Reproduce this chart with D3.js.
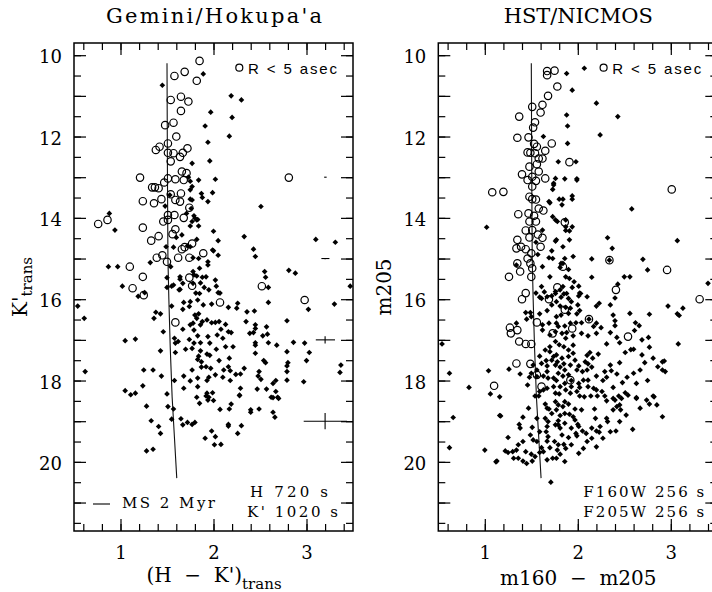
<!DOCTYPE html>
<html>
<head>
<meta charset="utf-8">
<script src="https://cdn.jsdelivr.net/npm/d3@7"></script>
<style>
  body { margin: 0; background: #fff; }
  svg { display: block; background: #fff; }
</style>
</head>
<body>
<svg id="chart" width="712" height="592"></svg>
<script>
// axes
const xDomain = [0.5, 3.5];
const yDomain = [9.7, 21.7];
const xMajor = [1, 2, 3];
const xMinor = d3.range(3, 18).map((i) => i / 5);
const yMajor = d3.range(10, 22);
const yMinor = d3.range(20, 44).map((i) => i / 2);
const yLabels = [10, 12, 14, 16, 18, 20];

// 2 Myr main sequence track (same for both panels)
const msTrack = [[1.50, 10.2], [1.505, 13], [1.51, 15], [1.52, 16], [1.535, 17.2], [1.555, 18.4], [1.58, 19.4], [1.605, 20.4]];

// Gemini/Hokupa'a : [H-K', K']
const gemOpen = [
  [1.85, 10.14], [1.69, 10.41], [1.58, 10.51], [1.82, 10.63], [1.65, 11.02], [1.54, 11.10], [1.73, 11.14], [1.65, 11.37],
  [1.57, 11.66], [1.48, 11.72], [1.60, 12.0], [1.51, 12.17], [1.42, 12.25], [1.38, 12.33], [1.51, 12.40], [1.57, 12.41],
  [1.67, 12.40], [1.72, 12.29], [1.64, 12.5], [1.54, 12.61], [1.21, 13.01], [1.47, 13.13], [1.51, 13.03], [1.59, 13.05],
  [1.68, 13.07], [1.66, 12.86], [1.71, 12.9], [1.34, 13.25], [1.37, 13.25], [1.41, 13.27], [1.24, 13.59], [1.36, 13.64],
  [1.44, 13.54], [1.54, 13.42], [1.59, 13.56], [1.64, 13.60], [1.65, 13.40], [1.74, 13.75], [1.51, 13.93], [1.46, 14.09],
  [1.51, 14.05], [1.58, 13.93], [1.68, 14.0], [0.76, 14.15], [0.86, 14.05], [1.24, 14.24], [1.59, 14.28], [1.56, 14.40],
  [1.41, 14.45], [1.33, 14.56], [1.77, 14.63], [1.69, 14.72], [1.66, 14.77], [1.39, 14.98], [1.45, 14.92], [1.62, 14.98],
  [1.74, 14.98], [1.89, 14.87], [1.50, 15.08], [1.10, 15.2], [1.24, 15.45], [1.74, 15.47], [1.77, 15.67], [2.52, 15.68],
  [1.13, 15.73], [2.81, 13.01], [1.59, 16.57], [2.07, 16.08], [2.98, 16.02], [1.25, 15.9]
];
const gemFilled = [
  [1.89, 10.46], [1.45, 10.74], [2.19, 11.0], [2.30, 11.1], [1.97, 11.4], [2.20, 11.53], [1.91, 11.74], [2.17, 11.99],
  [1.94, 12.14], [1.96, 12.6], [1.77, 12.66], [1.73, 13.0], [1.75, 13.1], [1.84, 13.07], [2.02, 13.05], [1.77, 13.23],
  [1.75, 13.31], [1.87, 13.40], [1.99, 13.38], [1.88, 13.5], [1.94, 13.6], [1.75, 13.54], [2.51, 13.72], [1.71, 13.89],
  [1.80, 14.01], [1.77, 14.09], [1.82, 14.05], [1.84, 14.2], [1.75, 14.2], [0.88, 13.89], [0.94, 14.3], [2.0, 14.33],
  [1.82, 14.53], [1.66, 14.42], [1.60, 14.48], [2.05, 14.56], [2.33, 14.46], [1.99, 14.79], [2.05, 14.92], [2.43, 14.77],
  [2.45, 14.95], [1.49, 14.71], [1.57, 14.72], [1.75, 14.71], [1.78, 14.98], [1.84, 15.0], [1.94, 15.08], [1.94, 15.16],
  [1.32, 15.1], [1.54, 15.20], [1.85, 15.24], [1.78, 15.32], [1.64, 15.45], [1.50, 15.47], [1.82, 15.43], [1.88, 15.46],
  [1.92, 15.45], [2.02, 15.53], [2.03, 15.68], [1.86, 15.6], [1.90, 15.71], [1.95, 15.77], [1.85, 15.86], [1.67, 15.61],
  [1.57, 15.65], [1.50, 15.71], [1.64, 15.76], [2.05, 15.84], [0.87, 15.2], [0.97, 15.2], [1.02, 15.68], [1.26, 15.84],
  [1.19, 15.93], [2.55, 15.32], [2.56, 15.46], [2.59, 15.71], [2.81, 15.29], [2.88, 15.36], [3.10, 14.53], [3.31, 14.6],
  [3.47, 15.68], [1.53, 13.44], [1.48, 13.71], [1.77, 13.56], [1.76, 13.77], [1.79, 13.95], [1.83, 14.04], [1.72, 14.69],
  [2.0, 14.81], [1.64, 15.51], [1.55, 15.68], [1.63, 15.77], [1.81, 15.85], [2.07, 15.85], [1.78, 15.61], [1.79, 15.4],
  [0.54, 16.17], [0.61, 16.47], [3.30, 16.12], [3.02, 16.25], [2.59, 16.08], [2.79, 16.53], [2.26, 16.1], [2.25, 16.22],
  [2.16, 16.2], [2.36, 16.31], [2.44, 16.29], [1.98, 16.12], [1.89, 16.14], [1.83, 16.02], [1.75, 16.06], [1.68, 16.08],
  [1.74, 16.18], [1.67, 16.25], [1.55, 16.17], [1.38, 16.32], [1.43, 16.36], [1.36, 16.47], [1.80, 16.39], [1.84, 16.36],
  [1.82, 16.47], [1.78, 16.59], [1.88, 16.55], [1.93, 16.51], [1.98, 16.58], [2.02, 16.57], [2.06, 16.55], [1.75, 16.63],
  [1.86, 16.63], [2.13, 16.62], [2.35, 16.55], [2.45, 16.63], [2.57, 16.68], [2.45, 16.72], [1.67, 16.74], [1.79, 16.76],
  [2.08, 16.74], [2.16, 16.8], [2.19, 16.82], [2.39, 16.84], [2.43, 16.82], [2.53, 16.9], [2.58, 16.86], [1.46, 16.8],
  [1.05, 17.02], [1.16, 16.98], [1.58, 16.96], [1.59, 17.08], [1.62, 17.04], [1.74, 16.99], [1.79, 17.08], [1.86, 17.07],
  [1.94, 16.92], [1.96, 17.08], [1.83, 16.9], [2.04, 16.88], [2.10, 16.96], [2.45, 17.07], [2.45, 17.13], [2.59, 17.07],
  [2.68, 17.13], [2.86, 17.06], [2.98, 17.08], [1.43, 17.27], [1.59, 17.31], [1.70, 17.23], [1.77, 17.21], [1.86, 17.27],
  [1.84, 17.4], [1.93, 17.35], [1.96, 17.38], [2.03, 17.23], [2.13, 17.17], [2.21, 17.17], [2.45, 17.33], [2.79, 17.29],
  [3.03, 17.31], [1.83, 17.48], [1.87, 17.54], [2.06, 17.51], [2.17, 17.45], [2.54, 17.51], [2.56, 17.56], [2.80, 17.56],
  [2.79, 17.64], [3.0, 17.51], [3.37, 17.62], [1.87, 17.67], [1.92, 17.66], [1.97, 17.7], [1.77, 17.74], [1.25, 17.74],
  [1.35, 17.74], [1.44, 17.89], [2.11, 17.74], [2.16, 17.66], [2.18, 17.76], [2.24, 17.85], [2.29, 17.84], [2.33, 17.7],
  [2.49, 17.78], [2.48, 17.89], [2.79, 17.78], [3.36, 17.8], [0.62, 17.78], [1.58, 18.0], [1.68, 17.89], [1.75, 18.01],
  [1.83, 17.94], [1.93, 18.0], [1.95, 17.92], [2.02, 17.86], [2.10, 17.92], [2.18, 18.0], [2.51, 17.97], [2.64, 18.07],
  [2.67, 18.0], [2.79, 17.99], [2.97, 18.03], [1.05, 18.25], [1.11, 18.35], [1.16, 18.31], [1.24, 18.13], [1.50, 18.33],
  [1.68, 18.19], [1.83, 18.15], [1.93, 18.31], [1.99, 18.3], [1.92, 18.38], [1.95, 18.41], [2.29, 18.19], [2.28, 18.36],
  [2.47, 18.21], [2.57, 18.21], [2.62, 18.41], [2.69, 18.41], [2.67, 18.27], [1.82, 18.41], [1.28, 18.63], [1.51, 18.64],
  [1.57, 18.7], [1.85, 18.56], [1.94, 18.48], [2.0, 18.49], [2.07, 18.71], [2.17, 18.7], [2.19, 18.58], [2.40, 18.72],
  [2.40, 18.78], [2.49, 18.7], [2.64, 18.42], [2.70, 18.44], [2.64, 18.78], [2.66, 18.9], [1.33, 18.99], [1.41, 19.13],
  [1.43, 19.3], [1.55, 18.95], [1.65, 18.94], [1.67, 19.09], [1.72, 19.03], [1.77, 19.08], [1.80, 19.03], [1.98, 19.24],
  [2.02, 19.38], [1.91, 19.42], [2.01, 19.58], [2.08, 19.57], [2.16, 19.08], [2.16, 19.12], [2.30, 19.11], [2.26, 19.3],
  [1.28, 19.73], [1.35, 19.69], [2.28, 18.37]
];
// typical errors: [colour, mag, colour err, mag err]
const gemErrors = [[3.2, 13, 0.01, 0], [3.2, 15, 0.04, 0.015], [3.2, 17, 0.1, 0.09], [3.2, 19, 0.23, 0.2]];

// HST/NICMOS : [m160-m205, m205]
const nicOpen = [
  [1.67, 10.39], [1.75, 10.38], [1.67, 10.49], [1.78, 10.77], [1.68, 11.0], [1.51, 11.27], [1.62, 11.22], [1.60, 11.41],
  [1.37, 11.51], [1.54, 11.65], [1.52, 11.78], [1.35, 12.03], [1.47, 12.02], [1.53, 12.18], [1.56, 12.25], [1.72, 12.17],
  [1.65, 12.35], [1.46, 12.39], [1.49, 12.40], [1.54, 12.41], [1.58, 12.54], [1.62, 12.54], [1.56, 12.68], [1.91, 12.63],
  [1.48, 12.74], [1.58, 12.86], [1.40, 12.93], [1.51, 12.99], [1.65, 13.03], [1.46, 13.07], [1.55, 13.09], [1.08, 13.37],
  [1.20, 13.36], [1.51, 13.23], [1.48, 13.48], [1.51, 13.54], [1.55, 13.55], [1.58, 13.77], [1.63, 13.82], [1.36, 13.91],
  [1.47, 13.89], [1.53, 13.95], [1.48, 14.09], [1.55, 14.09], [1.86, 14.11], [1.44, 14.31], [1.51, 14.3], [1.57, 14.41],
  [1.62, 14.49], [1.35, 14.54], [1.48, 14.48], [1.39, 14.71], [1.44, 14.77], [1.50, 14.87], [1.60, 14.71], [1.34, 14.75],
  [1.46, 15.0], [1.35, 15.12], [1.49, 15.12], [1.51, 15.24], [1.38, 15.32], [1.26, 15.45], [1.50, 15.45], [1.84, 15.2],
  [2.34, 15.04], [2.96, 15.28], [3.01, 13.3], [2.41, 15.77], [1.78, 15.71], [1.40, 16.0], [1.44, 15.85], [1.69, 16.0],
  [1.86, 16.26], [2.12, 16.49], [1.56, 16.57], [1.27, 16.7], [1.28, 16.84], [1.35, 16.76], [1.37, 17.04], [1.44, 17.1],
  [1.50, 17.1], [1.73, 16.84], [1.94, 16.72], [2.54, 16.92], [1.34, 17.58], [1.49, 17.59], [1.56, 17.86], [1.92, 17.99],
  [1.10, 18.13], [1.61, 18.15], [3.31, 16.0]
];
const nicFilled = [
  [1.88, 10.45], [2.07, 10.32], [1.94, 10.86], [2.20, 11.18], [2.43, 11.51], [1.88, 11.47], [1.89, 11.74], [2.24, 11.96],
  [1.63, 12.0], [1.89, 12.17], [1.79, 12.62], [1.98, 12.62], [1.86, 13.04], [1.76, 13.03], [1.99, 13.04], [1.74, 13.15],
  [1.73, 13.3], [1.69, 13.6], [1.80, 13.54], [1.84, 13.54], [1.83, 13.68], [1.94, 13.54], [1.94, 13.46], [2.58, 13.78],
  [1.02, 14.23], [1.73, 13.97], [1.76, 14.05], [1.78, 14.09], [1.87, 14.05], [1.87, 14.22], [1.87, 14.31], [1.94, 14.22],
  [1.91, 14.32], [1.62, 14.3], [1.77, 14.54], [1.91, 14.54], [1.84, 14.71], [1.72, 14.81], [1.69, 14.98], [1.73, 15.0],
  [1.86, 15.0], [1.95, 14.95], [2.32, 14.49], [2.37, 14.75], [2.15, 15.01], [2.70, 15.02], [2.75, 15.28], [3.07, 14.56],
  [2.50, 15.45], [2.56, 15.45], [2.43, 15.63], [2.15, 15.46], [2.01, 15.68], [1.84, 15.12], [1.81, 15.22], [1.90, 15.27],
  [1.62, 15.2], [1.61, 15.69], [1.87, 15.45], [1.91, 15.49], [1.96, 15.57], [1.70, 15.45], [1.94, 15.71], [2.03, 15.86],
  [1.76, 15.86], [1.81, 15.77], [1.84, 15.69], [1.88, 15.86], [3.40, 15.61], [1.70, 13.63], [1.74, 13.19], [1.82, 15.12],
  [1.34, 15.16], [1.64, 15.82], [1.59, 15.95], [2.34, 15.04], [1.76, 14.57], [1.99, 13.07], [1.57, 14.9], [1.55, 14.6],
  [1.55, 15.85], [1.61, 15.98], [1.67, 15.94], [1.72, 15.92], [1.77, 16.06], [1.76, 15.81], [1.82, 15.95], [1.85, 15.87],
  [1.90, 15.98], [1.93, 16.06], [2.01, 15.92], [2.02, 15.85], [2.10, 15.94], [2.0, 16.14], [1.92, 16.22], [1.87, 16.2],
  [1.81, 16.17], [1.72, 16.14], [1.67, 16.28], [1.44, 16.33], [1.49, 16.33], [1.50, 16.43], [1.45, 16.49], [1.59, 16.36],
  [1.77, 16.43], [1.82, 16.39], [1.90, 16.35], [1.99, 16.36], [2.02, 16.28], [2.20, 16.17], [2.23, 16.1], [2.35, 16.14],
  [2.40, 15.97], [2.56, 16.35], [2.38, 16.39], [2.40, 16.53], [2.77, 16.37], [2.97, 16.17], [3.07, 16.36], [3.09, 16.4],
  [3.13, 16.22], [2.62, 16.58], [2.66, 16.65], [2.61, 16.77], [2.40, 16.65], [2.25, 16.7], [2.17, 16.67], [2.20, 16.59],
  [2.12, 16.49], [2.04, 16.58], [1.98, 16.58], [1.92, 16.59], [1.86, 16.66], [1.79, 16.67], [1.77, 16.59], [1.69, 16.59],
  [1.62, 16.63], [1.34, 16.59], [1.62, 16.76], [1.70, 16.88], [1.76, 16.8], [1.83, 16.84], [1.88, 16.82], [1.87, 16.96],
  [1.95, 16.9], [2.04, 16.84], [2.11, 16.9], [2.20, 16.84], [2.35, 16.82], [2.42, 16.94], [2.45, 17.07], [2.31, 17.1],
  [2.69, 17.0], [2.76, 16.94], [2.77, 17.18], [3.08, 17.1], [0.54, 17.1], [2.60, 17.23], [2.57, 17.24], [2.51, 17.31],
  [2.69, 17.37], [2.81, 17.45], [2.91, 17.54], [2.93, 17.52], [2.72, 17.56], [2.86, 17.66], [2.91, 17.74], [2.94, 17.78],
  [2.75, 18.0], [2.48, 18.05], [2.38, 18.17], [2.45, 17.56], [2.35, 17.62], [2.29, 17.78], [2.36, 17.76], [2.22, 17.35],
  [2.16, 17.45], [2.13, 17.31], [2.10, 17.38], [2.08, 17.54], [2.10, 17.74], [1.99, 17.74], [2.05, 17.78], [2.20, 17.89],
  [2.27, 18.0], [2.06, 17.99], [2.01, 18.07], [1.93, 18.0], [1.90, 17.86], [1.86, 17.74], [1.81, 17.67], [1.76, 17.62],
  [1.72, 17.5], [1.66, 17.51], [1.61, 17.58], [1.59, 17.4], [1.65, 17.25], [1.70, 17.17], [1.76, 17.04], [1.80, 17.12],
  [1.85, 17.17], [1.90, 17.25], [1.95, 17.13], [1.95, 17.33], [1.90, 17.41], [1.83, 17.45], [1.77, 17.37], [1.97, 17.5],
  [1.56, 17.74], [1.50, 17.82], [1.48, 17.92], [1.46, 18.11], [1.67, 17.78], [1.68, 17.94], [1.74, 17.94], [1.77, 18.0],
  [1.79, 17.82], [1.81, 18.15], [1.86, 18.07], [1.74, 18.15], [1.67, 18.19], [1.63, 18.23], [1.59, 18.27], [1.54, 18.38],
  [1.58, 18.38], [1.76, 18.31], [1.80, 18.33], [1.87, 18.23], [1.92, 18.31], [2.02, 18.17], [2.11, 18.15], [2.17, 18.19],
  [2.20, 18.23], [2.26, 18.27], [2.29, 18.38], [2.21, 18.38], [2.14, 18.38], [2.07, 18.4], [2.02, 18.38], [1.99, 18.27],
  [2.44, 18.38], [2.51, 18.3], [2.63, 18.44], [2.38, 18.44], [2.81, 18.38], [1.04, 17.76], [1.26, 17.72], [1.38, 17.84],
  [0.62, 17.82], [0.83, 18.17], [1.06, 18.33], [1.16, 18.4], [0.66, 18.91], [0.62, 19.65], [1.0, 19.71], [1.13, 19.98],
  [1.16, 18.86], [1.25, 19.4], [1.25, 19.77], [1.30, 19.75], [1.31, 19.91], [1.34, 19.71], [1.36, 19.58], [1.38, 19.17],
  [1.37, 19.08], [1.41, 18.9], [1.47, 18.68], [1.41, 19.98], [1.45, 20.04], [1.51, 19.98], [1.50, 19.81], [1.54, 19.87],
  [1.59, 19.77], [1.61, 19.65], [1.63, 19.75], [1.52, 19.46], [1.56, 19.5], [1.51, 19.15], [1.65, 18.58], [1.69, 18.7],
  [1.65, 18.93], [1.68, 19.01], [1.67, 19.13], [1.66, 19.26], [1.68, 19.38], [1.67, 19.49], [1.70, 19.65], [1.67, 19.95],
  [1.73, 19.91], [1.76, 18.52], [1.77, 18.72], [1.79, 18.6], [1.84, 18.64], [1.86, 18.52], [1.90, 18.58], [1.97, 18.7],
  [1.91, 18.83], [1.95, 18.89], [1.97, 18.97], [1.86, 18.81], [1.81, 18.86], [1.79, 18.99], [1.79, 19.09], [1.76, 19.09],
  [1.81, 19.17], [1.86, 19.05], [1.93, 19.17], [2.0, 19.08], [2.01, 19.13], [2.05, 19.24], [2.09, 19.3], [1.98, 19.3],
  [1.99, 19.36], [2.04, 18.72], [2.18, 18.7], [2.19, 18.93], [2.15, 19.17], [2.20, 19.24], [2.23, 19.27], [2.31, 18.93],
  [2.32, 19.01], [2.41, 19.24], [2.59, 19.2], [2.42, 18.64], [2.38, 18.72], [2.45, 18.6], [2.46, 18.72], [2.40, 18.48],
  [2.47, 18.44], [2.54, 18.36], [2.63, 18.42], [2.77, 18.58], [2.82, 18.4], [2.91, 18.89], [1.85, 19.57], [1.93, 19.58],
  [1.87, 19.67], [2.06, 19.67], [2.01, 19.79], [2.20, 19.63], [1.78, 19.71], [1.81, 19.81], [1.77, 19.91], [1.86, 19.99],
  [1.71, 20.5], [2.31, 18.5], [1.12, 20.0], [1.17, 18.87],
  [1.70, 17.29], [1.74, 17.41], [1.78, 17.54], [1.85, 17.59], [1.92, 17.62], [2.01, 17.64], [1.84, 17.89], [1.93, 18.15],
  [1.67, 17.64], [1.63, 17.89], [1.56, 17.9], [1.52, 17.62], [2.11, 17.59], [2.15, 17.67], [2.11, 17.99], [2.31, 17.92],
  [2.42, 17.84], [2.53, 17.92], [2.60, 17.82], [2.67, 17.74], [2.63, 18.07], [1.67, 18.68], [1.72, 18.81], [1.83, 19.34],
  [1.90, 19.40], [1.75, 19.50], [1.79, 19.58], [2.10, 19.50], [2.15, 19.42], [2.24, 19.13], [2.27, 19.42], [2.35, 19.26],
  [2.45, 19.01], [2.52, 18.85], [2.67, 18.68], [2.74, 18.48], [2.85, 18.60], [1.59, 19.26], [1.56, 18.93], [1.49, 19.34],
  [1.41, 19.50], [1.44, 19.75], [1.36, 19.91], [1.22, 19.73]
];

const svg = d3.select("#chart");
const plotTop = 43;
const plotBottom = 531;
const plotW = 279;
const serif = "'DejaVu Serif', serif";
const sans = "'Liberation Sans', Arial, sans-serif";

const addAxis = (g, axis, transform, values, size, format, pad) => {
  const a = g
    .append("g")
    .attr("transform", transform)
    .call(axis.tickValues(values).tickSize(-size).tickPadding(pad).tickFormat(format));
  a.select(".domain").remove();
  a.selectAll("line").attr("stroke", "#000").attr("stroke-width", 1.2);
  a.attr("font-family", serif).attr("font-size", 18);
  return a;
};

const drawPanel = (p) => {
  const x = d3.scaleLinear().domain(xDomain).range([p.left, p.left + plotW]);
  const y = d3.scaleLinear().domain(yDomain).range([plotTop, plotBottom]);
  const g = svg.append("g");
  const right = p.left + plotW;
  const none = () => "";

  // ticks on all four sides, pointing in
  addAxis(g, d3.axisBottom(x), `translate(0,${plotBottom})`, xMinor, 7, none, 0);
  addAxis(g, d3.axisBottom(x), `translate(0,${plotBottom})`, xMajor, 12, (d) => d, 15);
  addAxis(g, d3.axisTop(x), `translate(0,${plotTop})`, xMinor, 7, none, 0);
  addAxis(g, d3.axisTop(x), `translate(0,${plotTop})`, xMajor, 12, none, 0);
  addAxis(g, d3.axisLeft(y), `translate(${p.left},0)`, yMinor, 7, none, 0);
  addAxis(g, d3.axisLeft(y), `translate(${p.left},0)`, yMajor, 12, (d) => (yLabels.includes(d) ? d : ""), 12)
    .selectAll("text").attr("dy", "0.42em");
  addAxis(g, d3.axisRight(y), `translate(${right},0)`, yMinor, 7, none, 0);
  addAxis(g, d3.axisRight(y), `translate(${right},0)`, yMajor, 12, none, 0);

  g.append("rect")
    .attr("x", p.left).attr("y", plotTop)
    .attr("width", plotW).attr("height", plotBottom - plotTop)
    .attr("fill", "none").attr("stroke", "#000").attr("stroke-width", 1.5);

  // MS isochrone
  g.append("path")
    .datum(msTrack)
    .attr("d", d3.line().x((d) => x(d[0])).y((d) => y(d[1])))
    .attr("fill", "none").attr("stroke", "#111").attr("stroke-width", 1.1);

  // stars outside 5 arcsec: filled diamonds
  g.selectAll(".far").data(p.filled).join("path")
    .attr("class", "far")
    .attr("d", d3.symbol(d3.symbolSquare, 16))
    .attr("transform", (d) => `translate(${x(d[0])},${y(d[1])}) rotate(45)`)
    .attr("fill", "#000");

  // stars inside 5 arcsec: open circles
  g.selectAll(".near").data(p.open).join("circle")
    .attr("class", "near")
    .attr("cx", (d) => x(d[0])).attr("cy", (d) => y(d[1]))
    .attr("r", 3.7)
    .attr("fill", "none").attr("stroke", "#000").attr("stroke-width", 1.2);

  // error bars
  const eb = g.selectAll(".err").data(p.errors).join("g").attr("class", "err")
    .attr("stroke", "#000").attr("stroke-width", 1.1);
  eb.append("line")
    .attr("x1", (d) => x(d[0] - d[2])).attr("x2", (d) => x(d[0] + d[2]) + 0.6)
    .attr("y1", (d) => y(d[1])).attr("y2", (d) => y(d[1]));
  eb.filter((d) => d[3] > 0).append("line")
    .attr("x1", (d) => x(d[0])).attr("x2", (d) => x(d[0]))
    .attr("y1", (d) => y(d[1] - d[3])).attr("y2", (d) => y(d[1] + d[3]));

  // title
  g.append("text")
    .attr("x", p.left + 140).attr("y", 23)
    .attr("text-anchor", "middle")
    .attr("font-family", serif).attr("font-size", 21)
    .attr("textLength", p.titleWidth).attr("lengthAdjust", "spacing")
    .text(p.title);

  // y label (rotated)
  const yl = g.append("text")
    .attr("transform", `translate(${p.left - 47},287) rotate(-90)`)
    .attr("text-anchor", "middle")
    .attr("font-family", serif).attr("font-size", 20);
  p.yLabel.forEach(([t, sub]) => {
    yl.append("tspan").text(t)
      .attr("font-size", sub ? 15 : 20)
      .attr("dy", sub ? 5 : null);
  });

  // x label
  const xl = g.append("text")
    .attr("x", p.left + 140).attr("y", p.xBase)
    .attr("text-anchor", "middle")
    .attr("font-family", serif).attr("font-size", 20);
  p.xLabel.forEach(([t, sub]) => {
    xl.append("tspan").text(t)
      .attr("font-size", sub ? 15 : 20)
      .attr("dy", sub ? 7 : null);
  });

  // legend: R < 5 asec
  g.append("circle")
    .attr("cx", p.left + 165.3).attr("cy", 67.7).attr("r", 3.5)
    .attr("fill", "none").attr("stroke", "#000").attr("stroke-width", 1.2);
  g.append("text")
    .attr("x", p.left + 174).attr("y", 74)
    .attr("font-family", sans).attr("font-size", 15)
    .attr("textLength", 89).attr("lengthAdjust", "spacing")
    .text("R < 5 asec");

  // exposure notes
  p.notes.forEach((n, i) => {
    g.append("text")
      .attr("x", p.left + n[1]).attr("y", 497 + i * 20)
      .attr("font-family", serif).attr("font-size", 15)
      .attr("textLength", n[2]).attr("lengthAdjust", "spacing")
      .text(n[0]);
  });

  return { g, x, y };
};

const left = drawPanel({
  left: 74,
  filled: gemFilled,
  open: gemOpen,
  errors: gemErrors,
  title: "Gemini/Hokupa'a",
  titleWidth: 216,
  yLabel: [["K'", false], ["trans", true]],
  xLabel: [["(H\u00a0\u00a0\u2212\u00a0\u00a0K')", false], ["trans", true]],
  xBase: 582,
  notes: [["H  720  s", 176, 78], ["K'  1020  s", 173, 91]],
});

drawPanel({
  left: 438.3,
  filled: nicFilled,
  open: nicOpen,
  errors: [],
  title: "HST/NICMOS",
  titleWidth: 149,
  yLabel: [["m205", false]],
  xLabel: [["m160\u00a0\u00a0\u2212\u00a0\u00a0m205", false]],
  xBase: 585,
  notes: [["F160W  256  s", 145, 121], ["F205W  256  s", 145, 121]],
});

// MS 2 Myr key (left panel only)
left.g.append("line")
  .attr("x1", 93).attr("x2", 110).attr("y1", 504).attr("y2", 504)
  .attr("stroke", "#000").attr("stroke-width", 1.1);
left.g.append("text")
  .attr("x", 122).attr("y", 508)
  .attr("font-family", serif).attr("font-size", 15)
  .attr("textLength", 93).attr("lengthAdjust", "spacing")
  .text("MS  2  Myr");
</script>
</body>
</html>
